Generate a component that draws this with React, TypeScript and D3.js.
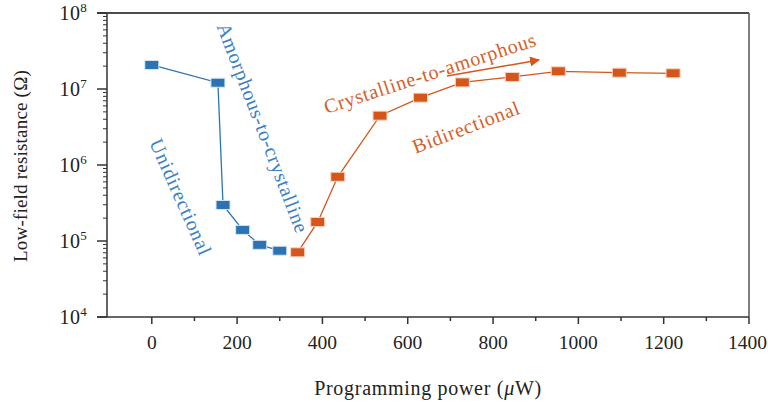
import React from "react";
import * as d3 from "d3";

const blueX = [0, 155, 167, 213, 253, 300];
const blueY = [2.07e7, 1.21e7, 2.98e5, 1.4e5, 8.9e4, 7.45e4];
const orangeX = [342, 389, 436, 535, 630, 728, 845, 953, 1096, 1222];
const orangeY = [7.1e4, 1.78e5, 7.0e5, 4.46e6, 7.69e6, 1.22e7, 1.44e7, 1.71e7, 1.64e7, 1.61e7];
const xTicks = [0, 200, 400, 600, 800, 1000, 1200, 1400];
const xMinor = [100, 300, 500, 700, 900, 1100, 1300];
const yExps = [4, 5, 6, 7, 8];

const W = 768, H = 402;
const L = 107, R = 749, T = 13, B = 317;
const BLUE = "#2b73b2";
const ORANGE = "#d5561a";
const FONT = "'Liberation Serif', 'DejaVu Serif', serif";
const LS = 0.7;

export default function App() {
  const x = d3.scaleLinear().domain([-105, 1400]).range([L, R]);
  const y = d3.scaleLog().domain([1e4, 1e8]).range([B, T]);
  const line = d3.line<[number, number]>().x(d => x(d[0])).y(d => y(d[1]));
  const blue: [number, number][] = blueX.map((v, i) => [v, blueY[i]]);
  const orange: [number, number][] = orangeX.map((v, i) => [v, orangeY[i]]);
  const minorY: number[] = [];
  for (let e = 4; e < 8; e++) for (let m = 2; m <= 9; m++) minorY.push(m * Math.pow(10, e));
  const axisColor = "#333";

  return (
    <svg width={W} height={H} style={{ position: "absolute", left: 0, top: 0 }} fontFamily={FONT}>
      <defs>
        <marker id="arr" viewBox="0 0 10 10" refX="9" refY="5" markerWidth="10" markerHeight="10" markerUnits="userSpaceOnUse" orient="auto">
          <path d="M0,0 L10,5 L0,10 Z" fill={ORANGE} />
        </marker>
      </defs>
      {/* frame */}
      <line x1={L - 10} x2={R} y1={T} y2={T} stroke="#111" strokeWidth={1.5} />
      <line x1={R} x2={R} y1={T} y2={B} stroke="#555" strokeWidth={1.5} />
      <line x1={L} x2={L} y1={T} y2={B} stroke={axisColor} strokeWidth={1.5} />
      <line x1={L - 10} x2={R} y1={B} y2={B} stroke={axisColor} strokeWidth={1.5} />
      {/* y ticks */}
      {yExps.map(e => (
        <g key={e}>
          <line x1={L - 10} x2={L} y1={y(Math.pow(10, e))} y2={y(Math.pow(10, e))} stroke={axisColor} strokeWidth={1.5} />
          <text x={L - 20} y={y(Math.pow(10, e)) + 7} textAnchor="end" fontSize={20} fill="#222" letterSpacing={0.3}>
            10<tspan dy={-8} fontSize={13}>{e}</tspan>
          </text>
        </g>
      ))}
      {minorY.map(v => (
        <line key={v} x1={L - 4} x2={L} y1={y(v)} y2={y(v)} stroke={axisColor} strokeWidth={1} />
      ))}
      {/* x ticks */}
      {xTicks.map(v => (
        <g key={v}>
          <line x1={x(v)} x2={x(v)} y1={B} y2={B + 7} stroke={axisColor} strokeWidth={1.5} />
          <text x={v === 1400 ? x(v) - 1.5 : x(v)} y={B + 32} textAnchor="middle" fontSize={19.5} fill="#222">{v}</text>
        </g>
      ))}
      {xMinor.map(v => (
        <line key={v} x1={x(v)} x2={x(v)} y1={B} y2={B + 4} stroke={axisColor} strokeWidth={1.5} />
      ))}
      {/* axis titles */}
      <text x={428} y={395} textAnchor="middle" fontSize={20} fill="#222" letterSpacing={LS}>
        Programming power (<tspan fontStyle="italic">μ</tspan>W)
      </text>
      <text transform="translate(27,166) rotate(-90)" textAnchor="middle" fontSize={19} fill="#222" letterSpacing={0.2}>
        Low-field resistance (Ω)
      </text>
      {/* series */}
      <path d={line(blue) || ""} fill="none" stroke={BLUE} strokeWidth={1.3} />
      <path d={line(orange) || ""} fill="none" stroke={ORANGE} strokeWidth={1.3} />
      {blue.map((d, i) => (
        <rect key={"b" + i} x={x(d[0]) - 7} y={y(d[1]) - 4.5} width={14} height={9} fill={BLUE} stroke="#d6e6f4" strokeWidth={1} />
      ))}
      {orange.map((d, i) => (
        <rect key={"o" + i} x={x(d[0]) - 7} y={y(d[1]) - 4.5} width={14} height={9} fill={ORANGE} stroke="#f6d3c0" strokeWidth={1} />
      ))}
      {/* annotations */}
      <text transform="translate(263,128) rotate(69)" textAnchor="middle" dominantBaseline="central" fontSize={20} fill="#3a80c2" letterSpacing={LS}>
        Amorphous-to-crystalline
      </text>
      <text transform="translate(181,197) rotate(66)" textAnchor="middle" dominantBaseline="central" fontSize={20} fill="#3a80c2" letterSpacing={LS}>
        Unidirectional
      </text>
      <text transform="translate(430,73) rotate(-18)" textAnchor="middle" dominantBaseline="central" fontSize={20} fill="#d5602a" letterSpacing={LS}>
        Crystalline-to-amorphous
      </text>
      <text transform="translate(466,127) rotate(-21)" textAnchor="middle" dominantBaseline="central" fontSize={20} fill="#d5602a" letterSpacing={LS}>
        Bidirectional
      </text>
      <line x1={447} y1={76} x2={539} y2={60} stroke={ORANGE} strokeWidth={1.5} markerEnd="url(#arr)" />
    </svg>
  );
}
